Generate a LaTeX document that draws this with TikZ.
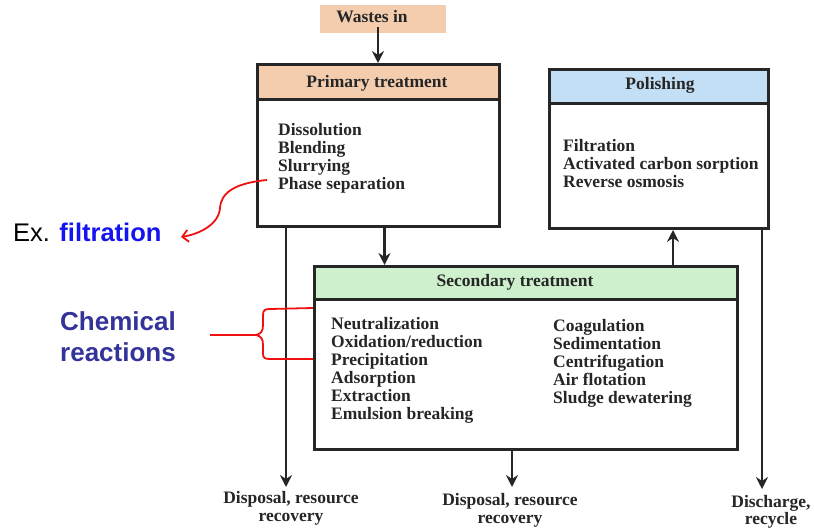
\documentclass[tikz,border=0pt]{standalone}
\usepackage{fontspec}
\setmainfont{Liberation Serif}
\newfontfamily\arialf{Liberation Sans}
\usetikzlibrary{arrows.meta}
\definecolor{ink}{HTML}{262626}
\definecolor{peach}{HTML}{F3CDAE}
\definecolor{skyb}{HTML}{C3DFF5}
\definecolor{mint}{HTML}{CFF0CC}
\definecolor{annblue}{HTML}{1414F0}
\definecolor{chemblue}{HTML}{33339A}
\definecolor{annred}{HTML}{F01010}
\begin{document}
\begin{tikzpicture}[x=1pt,y=-1pt,
  txt/.style={font=\bfseries\fontsize{17.5}{18}\selectfont, text=ink, inner sep=0pt},
  items/.style={txt, align=left, anchor=north west},
  outl/.style={txt, align=center, anchor=north},
  frame/.style={draw=ink, line width=3pt, anchor=north west, inner sep=0pt},
  flow/.style={draw=ink, line width=2.4pt, -{Stealth[length=12pt,width=12pt,inset=4pt]}},
  note/.style={draw=annred, line width=1.8pt},
]
\useasboundingbox (0,0) rectangle (814,529);
\fill[white] (0,0) rectangle (814,529);

% Wastes in
\node[fill=peach, minimum width=126pt, minimum height=28pt, inner sep=0pt] (wbg) at (383,19) {};
\node[txt, anchor=base] (wastes) at (372,23) {Wastes in};

% Primary treatment
\node[frame, fill=white, minimum width=242pt, minimum height=162pt] (prim) at (256,63) {};
\node[frame, fill=peach, minimum width=242pt, minimum height=35pt] (primh) at (256,63) {};
\node[txt, anchor=base] (primt) at (377,88) {Primary treatment};
\node[items] (primi) at (278,123.2) {Dissolution\\Blending\\Slurrying\\Phase separation};

% Polishing
\node[frame, fill=white, minimum width=219pt, minimum height=159pt] (pol) at (548,68) {};
\node[frame, fill=skyb, minimum width=219pt, minimum height=34pt] (polh) at (548,68) {};
\node[txt, anchor=base] (polt) at (660,90) {Polishing};
\node[items] (poli) at (563,139) {Filtration\\Activated carbon sorption\\Reverse osmosis};

% Secondary treatment
\node[frame, fill=white, minimum width=423pt, minimum height=183pt] (sec) at (313,265) {};
\node[frame, fill=mint, minimum width=423pt, minimum height=33pt] (sech) at (313,265) {};
\node[txt, anchor=base] (sect) at (515,287) {Secondary treatment};
\node[items] (secl) at (331,317.5) {Neutralization\\Oxidation/reduction\\Precipitation\\Adsorption\\Extraction\\Emulsion breaking};
\node[items] (secr) at (553,319) {Coagulation\\Sedimentation\\Centrifugation\\Air flotation\\Sludge dewatering};

% Outputs
\coordinate (o1) at (286,487);
\coordinate (o2) at (512,487);
\coordinate (o3) at (762,489);
\coordinate (up) at (673,0);
\node[outl] (out1) at (291,491.2) {Disposal, resource\\recovery};
\node[outl] (out2) at (510,493.2) {Disposal, resource\\recovery};
\node[outl, font=\bfseries\fontsize{17.5}{17}\selectfont] (out3) at (771,495.5) {Discharge,\\recycle};

% Flow connectors
\draw[flow] ([xshift=6pt,yshift=-4pt]wastes.south) -- ([xshift=6pt]wastes.south |- prim.north);
\draw[flow] ([xshift=6pt]prim.south) -- ([xshift=6pt]prim.south |- sec.north);
\draw[flow] (prim.south west -| o1) -- (o1);
\draw[flow] (sec.south -| o2) -- (o2);
\draw[flow] (sec.north -| up) -- (pol.south -| up);
\draw[flow] (pol.south -| o3) -- (o3);

% Annotations
\node[font=\arialf\fontsize{25.5}{30}\selectfont, anchor=base west, inner sep=0pt] (ex) at (13,242) {Ex. \textcolor{annblue}{\bfseries filtration}};
\node[font=\arialf\bfseries\fontsize{26}{31}\selectfont, text=chemblue, align=center, inner sep=0pt, anchor=north] (chem) at (118,311.5) {Chemical\\reactions};

\coordinate (rs) at (267,180);
\coordinate (rt) at (181,237);
\draw[note, -{Straight Barb[length=6pt,width=12pt]}] (rs) .. controls (236,183) and (221,192) .. (220,208) .. controls (219,224) and (200,234) .. (rt);

\coordinate (bt) at (210,335);
\draw[note] (bt) -- (256,335) .. controls (261,334) and (263,331) .. (263,325) -- (263,315) .. controls (263,310) and (265,309) .. (270,309) -- (313,308);
\draw[note] (256,335) .. controls (261,336) and (263,339) .. (263,345) -- (263,354) .. controls (263,358) and (265,359) .. (270,359) -- (313,359);
\end{tikzpicture}
\end{document}
